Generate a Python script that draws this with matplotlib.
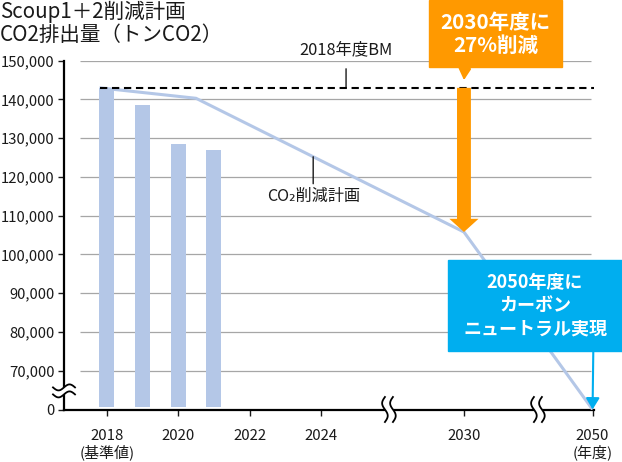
import numpy as np
import matplotlib.pyplot as plt
from matplotlib.patches import Rectangle, Polygon
from matplotlib.transforms import ScaledTranslation

plt.rcParams['font.family'] = ['Noto Sans CJK JP', 'DejaVu Sans']

# data
bar_years = [2018, 2019, 2020, 2021]
bar_values = [143000, 138500, 128400, 126900]
plan_years = [2017.8, 2020.5, 2030, 2050]
plan_values = [143000, 140300, 105800, 0]
bm_value = 143000
tick_years = [2018, 2020, 2022, 2024, 2030, 2050]
tick_labels = ['2018\n(基準値)', '2020', '2022', '2024', '2030', '2050\n(年度)']
ytick_values = [0, 70000, 80000, 90000, 100000, 110000, 120000, 130000, 140000, 150000]
ytick_labels = ['0', '70,000', '80,000', '90,000', '100,000', '110,000',
                '120,000', '130,000', '140,000', '150,000']

BAR_C = '#b4c7e7'
ORANGE = '#ff9900'
CYAN = '#00aeef'
TXT = '#1a1a1a'
GRID = '#a6a6a6'

# axis with breaks: 0 drawn at 60,000, 2030/2050 squeezed
Y_BREAK = 60000
tick_pos = [2018, 2020, 2022, 2024, 2028, 2031.6]


def xpos(year):
    return year if year <= 2024 else float(np.interp(year, tick_years, tick_pos))


def ypos(v):
    return v if v >= Y_BREAK else Y_BREAK


W, H = 622, 462


def fx(x):
    return x / W


def fy(y):
    return 1 - y / H


fig = plt.figure(figsize=(W / 100, H / 100), dpi=100)
ax = fig.add_axes([fx(64), fy(409.5), fx(594) - fx(64), fy(60.7) - fy(409.5)])

# grid
ax.hlines(ytick_values[1:], 2017.25, 2031.55, color=GRID, lw=0.9, zorder=1)

# bars (small gap above the axis line)
BAR_W = 0.42
base = Y_BREAK + 600
ax.bar(bar_years, [v - base for v in bar_values], bottom=base, width=BAR_W,
       color=BAR_C, zorder=2)

# plan line
px = [xpos(y) for y in plan_years]
py = [ypos(v) for v in plan_values]
ax.plot(px, py, color=BAR_C, lw=2.2, zorder=3, solid_capstyle='butt')

# BM dashed line
ax.plot([xpos(plan_years[0]), 2031.64], [bm_value, bm_value], color='black', lw=1.5,
        dashes=(3.5, 2.25), zorder=4, clip_on=False)

# spines / ticks
for s in ['top', 'right']:
    ax.spines[s].set_visible(False)
for s in ['left', 'bottom']:
    ax.spines[s].set_linewidth(1.6)
    ax.spines[s].set_color('black')
ax.set_yticks([ypos(v) for v in ytick_values])
ax.set_yticklabels(ytick_labels)
ax.set_xticks([xpos(y) for y in tick_years])
ax.set_xticklabels(tick_labels)
ax.set_xlim(2016.805, 2031.64)
ax.set_ylim(Y_BREAK, 150000)
ax.tick_params(axis='y', length=4, width=1, pad=3, labelsize=10.7, colors=TXT)
ax.tick_params(axis='x', length=4, width=1, pad=10, labelsize=10.8, colors=TXT)
for t in ax.get_xticklabels():
    t.set_linespacing(1.1)

# break marks (sizes in pixels)
def brk(x, y, vertical):
    tr = fig.dpi_scale_trans + ScaledTranslation(x, y, ax.transData)
    t = np.linspace(-1, 1, 40)
    if vertical:
        a = [(-4 - 2.8 * np.sin(np.pi * t)) / 100, t * 12.5 / 100]
        b = [(4 - 2.8 * np.sin(np.pi * t)) / 100, t * 12.5 / 100]
    else:
        a = [t * 11 / 100, (-3.5 + 3 * np.sin(np.pi * t)) / 100]
        b = [t * 11 / 100, (3.5 + 3 * np.sin(np.pi * t)) / 100]
    poly = np.column_stack([np.concatenate([a[0], b[0][::-1]]),
                            np.concatenate([a[1], b[1][::-1]])])
    ax.add_patch(Polygon(poly, closed=True, transform=tr, fc='white', ec='none',
                         zorder=8, clip_on=False))
    for c in (a, b):
        ax.plot(c[0], c[1], transform=tr, color='black', lw=1.3, zorder=9, clip_on=False)


brk(2016.805, 64800, False)
brk(2025.9, Y_BREAK, True)
brk(2030.07, Y_BREAK, True)

# labels on the chart
bm_x = 2024.7
ax.annotate('', xy=(bm_x, bm_value), xytext=(0, 13.7), textcoords='offset points',
            arrowprops=dict(arrowstyle='-', lw=1, color=TXT, shrinkA=0, shrinkB=0))
ax.annotate('2018年度BM', xy=(bm_x, bm_value), xytext=(0, 27.4), textcoords='offset points',
            ha='center', va='center', fontsize=11.8, color=TXT)

co2_x = 2023.78
co2_y = float(np.interp(co2_x, px, py))
ax.annotate('', xy=(co2_x, co2_y), xytext=(0, -19.4), textcoords='offset points',
            arrowprops=dict(arrowstyle='-', lw=1, color=TXT, shrinkA=0, shrinkB=0))
ax.annotate('CO₂削減計画', xy=(co2_x, co2_y), xytext=(0, -28.5), textcoords='offset points',
            ha='center', va='center', fontsize=11.6, color=TXT)

# 2030 target callout
x30 = xpos(2030)
fig.add_artist(Rectangle((fx(429), fy(66.7)), fx(562) - fx(429), 66.7 / H,
                         transform=fig.transFigure, color=ORANGE, zorder=5))
fig.text(fx(495.5), fy(34), '2030年度に\n27%削減', ha='center', va='center', color='white',
         fontsize=14.8, fontweight='bold', linespacing=1.15, zorder=6)
ax.annotate('', xy=(x30, 145000), xytext=(fx(465), fy(66.7)), textcoords='figure fraction',
            arrowprops=dict(arrowstyle='-|>,head_length=0.45,head_width=0.25', mutation_scale=15,
                            color=ORANGE, lw=1.5, shrinkA=0, shrinkB=0), annotation_clip=False)
ax.annotate('', xy=(x30, plan_values[2]), xytext=(x30, bm_value),
            arrowprops=dict(arrowstyle='simple,head_length=0.95,head_width=2.1,tail_width=1.0',
                            mutation_scale=10, fc=ORANGE, ec='none', lw=0, shrinkA=0, shrinkB=0),
            zorder=6)

# 2050 callout
fig.add_artist(Rectangle((fx(448), fy(351)), fx(622) - fx(448), (351 - 260) / H,
                         transform=fig.transFigure, color=CYAN, zorder=5))
fig.text(fx(535), fy(305.5), '2050年度に\nカーボン\nニュートラル実現', ha='center', va='center',
         color='white', fontsize=13, fontweight='bold', linespacing=1.3, zorder=6)
ax.annotate('', xy=(xpos(2050), ypos(0)), xytext=(fx(593.3), fy(351)), textcoords='figure fraction',
            arrowprops=dict(arrowstyle='-|>,head_length=0.45,head_width=0.27', mutation_scale=15,
                            color=CYAN, lw=1.5, shrinkA=0, shrinkB=0), annotation_clip=False)

# title
fig.text(0, fy(12), 'Scoup1＋2削減計画', fontsize=14.8, va='center', ha='left', color=TXT)
fig.text(0, fy(35), 'CO2排出量（トンCO2）', fontsize=14.8, va='center', ha='left', color=TXT)

fig.savefig('out.png', dpi=100)
